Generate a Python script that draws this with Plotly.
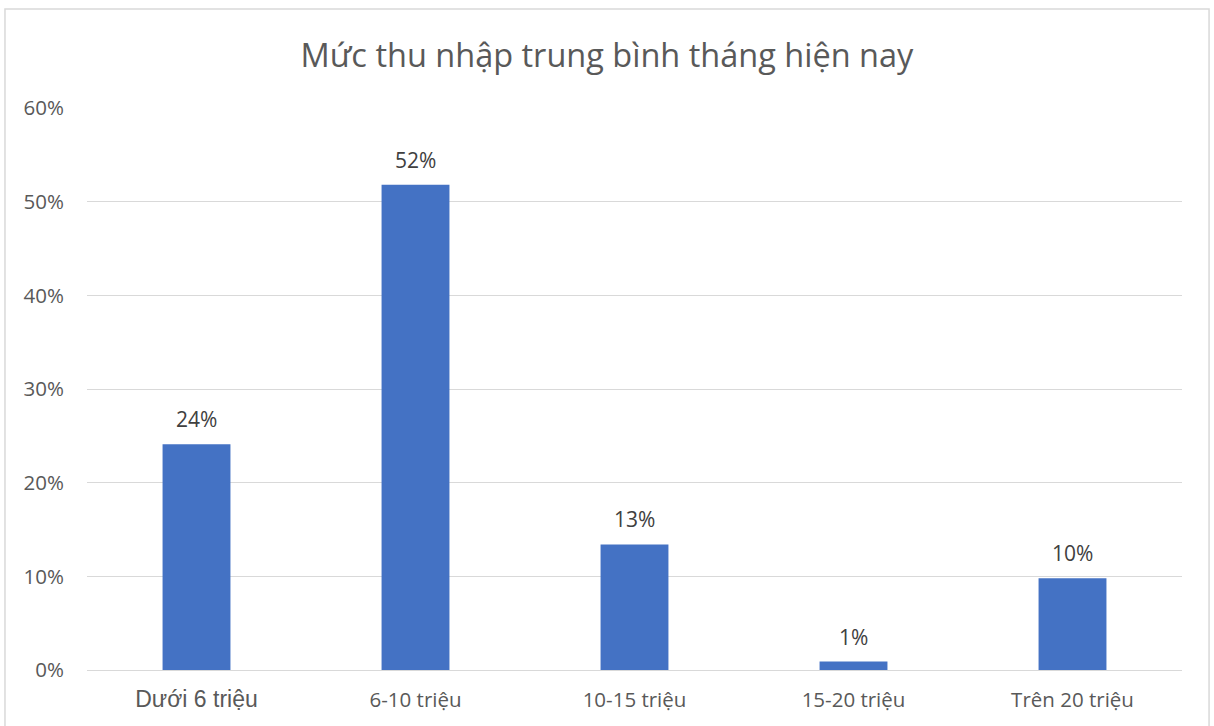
import plotly.graph_objects as go

categories = [
    "<span style='font-family:Liberation Sans, Arial;font-size:23px'>Dưới 6 triệu</span>",
    "6-10 triệu",
    "10-15 triệu",
    "15-20 triệu",
    "Trên 20 triệu",
]
shares = [0.241, 0.518, 0.134, 0.009, 0.098]
y_ticks = [0, 0.1, 0.2, 0.3, 0.4, 0.5, 0.6]

fig = go.Figure(
    go.Bar(
        x=categories,
        y=shares,
        marker=dict(color="#4472C4", line_width=0),
        width=0.31,
        hoverinfo="x+y",
    )
)

# data labels above bars
for cat, val in zip(categories, shares):
    fig.add_annotation(
        x=cat,
        y=val,
        text=f"{val:.0%}",
        showarrow=False,
        yanchor="bottom",
        yshift=9,
        font=dict(size=21, color="#404040"),
    )

fig.update_layout(
    title=dict(
        text="Mức thu nhập trung bình tháng hiện nay",
        x=0.5,
        xanchor="center",
        y=0.924,
        yanchor="middle",
        font=dict(size=32.5, color="#595959"),
    ),
    font=dict(family="Open Sans, Noto Sans, sans-serif", color="#595959"),
    width=1214,
    height=726,
    margin=dict(l=87, r=32, t=108, b=56),
    plot_bgcolor="white",
    paper_bgcolor="white",
    showlegend=False,
    xaxis=dict(
        showgrid=False,
        showline=True,
        linecolor="#D9D9D9",
        linewidth=1,
        ticks="",
        automargin=False,
        ticklabelstandoff=11,
        tickfont=dict(size=20.5, color="#595959"),
    ),
    yaxis=dict(
        range=[0, 0.6],
        tickvals=y_ticks,
        tickformat=".0%",
        showgrid=True,
        gridcolor="#D9D9D9",
        gridwidth=1,
        zeroline=False,
        ticks="",
        automargin=False,
        ticklabelstandoff=22,
        tickfont=dict(size=20.5, color="#595959"),
    ),
    shapes=[
        dict(
            type="rect",
            xref="paper",
            yref="paper",
            x0=-0.0749,
            x1=1.0247,
            y0=-0.11,
            y1=1.176,
            line=dict(color="#D9D9D9", width=1.5),
            fillcolor="rgba(0,0,0,0)",
            layer="below",
        )
    ],
)

fig.write_html(
    "out.html",
    config={"displayModeBar": False},
    post_script="document.body.style.margin = '0';",
)
